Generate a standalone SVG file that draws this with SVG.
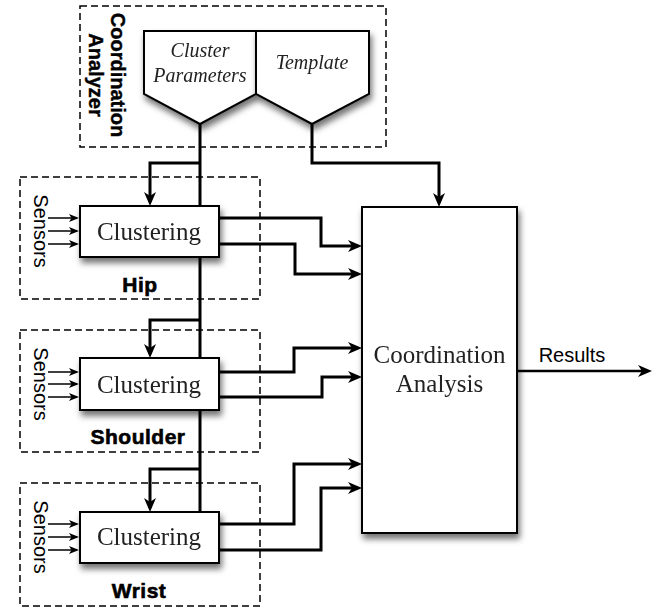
<svg xmlns="http://www.w3.org/2000/svg" width="658" height="609" viewBox="0 0 658 609">
<style>
.frame{fill:none;stroke:#000;stroke-width:1.5;stroke-dasharray:7 4}
.box{fill:#fff;stroke:#000;stroke-width:2}
.wire{fill:none;stroke:#000;stroke-width:3;stroke-linejoin:miter}
.sens{fill:none;stroke:#000;stroke-width:1.5}
.lbl{font-family:"Liberation Sans",Arial,sans-serif;font-weight:bold;font-size:21px;text-anchor:middle;stroke:#000;stroke-width:0.6;letter-spacing:0.5px}
.cal{font-family:"Liberation Sans",Arial,sans-serif;font-weight:bold;font-size:20px;text-anchor:middle;stroke:#000;stroke-width:0.4}
.sn{font-family:"Liberation Sans",Arial,sans-serif;font-size:20px;text-anchor:middle}
.ser{font-family:"Liberation Serif","Times New Roman",serif;font-size:25px;text-anchor:middle;fill:#222}
.it{font-family:"Liberation Serif","Times New Roman",serif;font-style:italic;font-size:20px;text-anchor:middle;fill:#222}
</style>
<defs>
<filter id="sh" x="-20%" y="-20%" width="150%" height="160%">
<feDropShadow dx="2" dy="5" stdDeviation="3" flood-color="#000" flood-opacity="0.55"/>
</filter>
<marker id="ah" markerUnits="userSpaceOnUse" markerWidth="14" markerHeight="14" viewBox="0 0 14 14" refX="10" refY="7" orient="auto">
<path d="M0,1 L14,7 L0,13 L4,7 z" fill="#000"/>
</marker>
<marker id="as" markerUnits="userSpaceOnUse" markerWidth="10" markerHeight="10" viewBox="0 0 10 10" refX="8" refY="5" orient="auto">
<path d="M0,1 L10,5 L0,9 L2.5,5 z" fill="#000"/>
</marker>
</defs>

<g id="coordination-analyzer-frame">
<rect class="frame" x="80" y="6" width="306" height="141"/>
<text class="cal" transform="translate(111,75) rotate(90)">Coordination</text>
<text class="cal" transform="translate(89,75) rotate(90)">Analyzer</text>
</g>
<g id="hip-frame">
<rect class="frame" x="20" y="177" width="240" height="122"/>
<text class="lbl" x="140" y="292">Hip</text>
<text class="sn" transform="translate(34,231) rotate(90)">Sensors</text>
</g>
<g id="shoulder-frame">
<rect class="frame" x="20" y="330" width="240" height="122"/>
<text class="lbl" x="138" y="444">Shoulder</text>
<text class="sn" transform="translate(34,384) rotate(90)">Sensors</text>
</g>
<g id="wrist-frame">
<rect class="frame" x="20" y="483" width="240" height="123"/>
<text class="lbl" x="139" y="598">Wrist</text>
<text class="sn" transform="translate(34,537) rotate(90)">Sensors</text>
</g>

<g id="connectors">
<path class="wire" d="M200,124 V512"/>
<path class="wire" d="M200,163 H150 V202" marker-end="url(#ah)"/>
<path class="wire" d="M200,320 H150 V354" marker-end="url(#ah)"/>
<path class="wire" d="M200,469 H150 V508" marker-end="url(#ah)"/>
<path class="wire" d="M312,124 V163 H439 V203" marker-end="url(#ah)"/>
<path class="wire" d="M219,218 H321 V246 H358" marker-end="url(#ah)"/>
<path class="wire" d="M219,244 H295 V274 H358" marker-end="url(#ah)"/>
<path class="wire" d="M219,372 H294 V348 H358" marker-end="url(#ah)"/>
<path class="wire" d="M219,397 H322 V377 H358" marker-end="url(#ah)"/>
<path class="wire" d="M219,524 H294 V464 H358" marker-end="url(#ah)"/>
<path class="wire" d="M219,550 H321 V488 H358" marker-end="url(#ah)"/>
<path class="wire" style="stroke-width:2.5" d="M517,371 H648" marker-end="url(#ah)"/>
<path class="sens" d="M48,218 H77" marker-end="url(#as)"/>
<path class="sens" d="M48,231 H77" marker-end="url(#as)"/>
<path class="sens" d="M48,244 H77" marker-end="url(#as)"/>
<path class="sens" d="M48,372 H77" marker-end="url(#as)"/>
<path class="sens" d="M48,384 H77" marker-end="url(#as)"/>
<path class="sens" d="M48,397 H77" marker-end="url(#as)"/>
<path class="sens" d="M48,524 H77" marker-end="url(#as)"/>
<path class="sens" d="M48,537 H77" marker-end="url(#as)"/>
<path class="sens" d="M48,550 H77" marker-end="url(#as)"/>
<text class="sn" x="572" y="362">Results</text>
</g>

<g id="cluster-parameters" filter="url(#sh)">
<path class="box" d="M144,31 H256 V94 L200,124 L144,94 Z"/>
<text class="it" x="200" y="57">Cluster</text>
<text class="it" x="200" y="82">Parameters</text>
</g>
<g id="template" filter="url(#sh)">
<path class="box" d="M256,31 H369 V94 L312,124 L256,94 Z"/>
<text class="it" x="312" y="69">Template</text>
</g>
<g id="hip-clustering" filter="url(#sh)">
<rect class="box" x="80" y="206" width="139" height="51"/>
<text class="ser" x="149" y="240">Clustering</text>
</g>
<g id="shoulder-clustering" filter="url(#sh)">
<rect class="box" x="80" y="358" width="139" height="52"/>
<text class="ser" x="149" y="393">Clustering</text>
</g>
<g id="wrist-clustering" filter="url(#sh)">
<rect class="box" x="80" y="512" width="139" height="51"/>
<text class="ser" x="149" y="545">Clustering</text>
</g>
<g id="coordination-analysis" filter="url(#sh)">
<rect class="box" x="362" y="207" width="155" height="326"/>
<text class="ser" x="439.5" y="363">Coordination</text>
<text class="ser" x="439.5" y="392">Analysis</text>
</g>
</svg>
